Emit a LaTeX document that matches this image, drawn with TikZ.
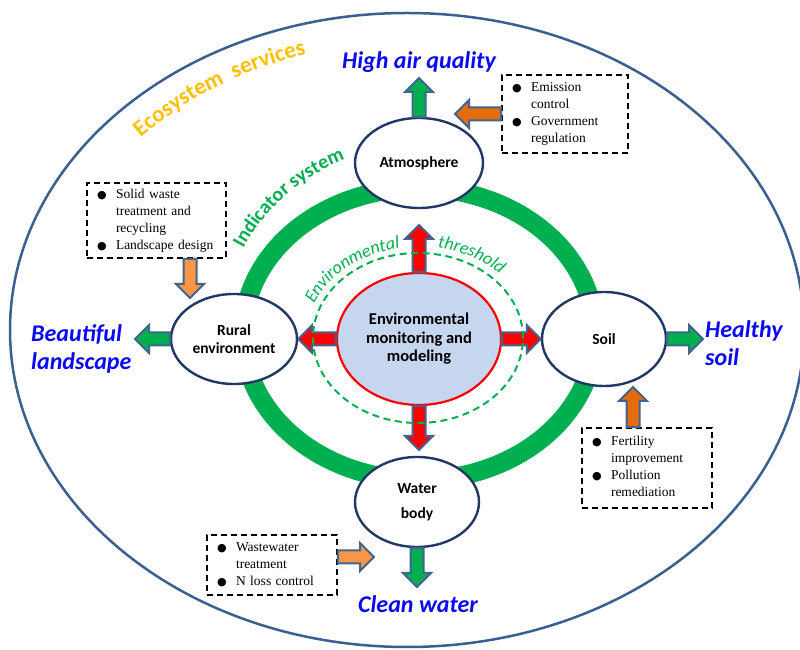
\documentclass[tikz,border=0pt]{standalone}
\usepackage{fontspec}
\setmainfont{Carlito}
\newfontfamily\boxfont{Liberation Serif}
\newfontfamily\symfont{DejaVu Sans}
\usetikzlibrary{calc,shapes.geometric,decorations.text}

\definecolor{nodeedge}{RGB}{32,56,100}
\definecolor{arrowedge}{RGB}{65,100,145}
\definecolor{outeredge}{RGB}{58,95,145}
\definecolor{grn}{RGB}{0,176,80}
\definecolor{orgLight}{RGB}{247,150,70}
\definecolor{orgDark}{RGB}{228,108,10}
\definecolor{coreblue}{RGB}{197,214,238}
\definecolor{ecoyellow}{RGB}{255,192,0}
\definecolor{goalblue}{RGB}{10,10,245}

\newcommand\bl{{\symfont\fontsize{11}{11}\selectfont ●}}
\newcommand\ecofont{\fontsize{23}{23}\selectfont\bfseries\color{ecoyellow}}
\newcommand\indfont{\fontsize{20}{20}\selectfont\bfseries\color{grn}}
\newcommand\envfont{\fontsize{18}{18}\selectfont\itshape\color{grn}}

\newcommand\blockarr[3]{%
  \coordinate (baH) at ($(#2)!14pt!(#1)$);
  \draw[blockarrow, fill=#3]
    ($(#1)!6.5pt!90:(#2)$) -- ($(baH)!6.5pt!90:(#2)$) -- ($(baH)!14pt!90:(#2)$) -- (#2)
    -- ($(baH)!14pt!-90:(#2)$) -- ($(baH)!6.5pt!-90:(#2)$) -- ($(#1)!6.5pt!-90:(#2)$) -- cycle;}

\tikzset{
  place/.style={ellipse, draw=nodeedge, line width=2.4pt, fill=white, inner sep=0pt,
    align=center, font=\fontsize{15.5}{17.5}\selectfont\bfseries},
  core/.style={ellipse, draw=red, line width=2.2pt, fill=coreblue, inner sep=0pt,
    align=center, font=\fontsize{16.5}{18.5}\selectfont\bfseries},
  dashbox/.style={draw=black, dash pattern=on 6pt off 4pt, line width=1.8pt,
    inner xsep=8pt, inner ysep=0pt, align=left,
    font=\boxfont\fontsize{13.5}{17}\selectfont},
  goal/.style={text=goalblue, inner sep=0pt, align=left,
    font=\fontsize{24}{28}\selectfont\bfseries\itshape},
  blockarrow/.style={draw=arrowedge, line width=2pt, line join=miter},
}

\begin{document}
\begin{tikzpicture}[x=1pt, y=1pt]
\useasboundingbox (0,0) rectangle (800,650);
\fill[white] (0,0) rectangle (800,650);

% outer ellipse and ring
\draw[outeredge, line width=2.5pt] (407,320) ellipse [x radius=397pt, y radius=317pt];
\draw[grn, line width=19pt] (419,316) ellipse [x radius=176pt, y radius=146pt];

% nodes
\node[core, minimum width=164pt, minimum height=132pt] (core) at (419,311) {Environmental\\monitoring and\\modeling};
\node[place, minimum width=128pt, minimum height=90pt] (atm) at (419,487) {Atmosphere};
\node[place, minimum width=126pt, minimum height=90pt] (rur) at (234,311) {Rural\\environment};
\node[place, minimum width=124pt, minimum height=94pt] (soil) at (604,311) {Soil};
\node[place, minimum width=124pt, minimum height=90pt, font=\fontsize{15.5}{25}\selectfont\bfseries] (wat) at (417,148) {Water\\body};

% dashed boxes
\node[dashbox, text width=110pt, minimum height=78pt] (boxA) at (565,536)
  {\begin{tabular}{@{\hspace{2pt}}p{19pt}@{}l@{}}\bl & Emission\\ & control\\ \bl & Government\\ & regulation\end{tabular}};
\node[dashbox, text width=123pt, minimum height=75pt] (boxB) at (156.5,429.5)
  {\begin{tabular}{@{\hspace{2pt}}p{19pt}@{}l@{}}\bl & Solid waste\\ & treatment and\\ & recycling\\ \bl & Landscape design\end{tabular}};
\node[dashbox, text width=114pt, minimum height=60pt] (boxC) at (272,85)
  {\begin{tabular}{@{\hspace{2pt}}p{19pt}@{}l@{}}\bl & Wastewater\\ & treatment\\ \bl & N loss control\end{tabular}};
\node[dashbox, text width=114pt, minimum height=80pt] (boxD) at (647,182)
  {\begin{tabular}{@{\hspace{2pt}}p{19pt}@{}l@{}}\bl & Fertility\\ & improvement\\ \bl & Pollution\\ & remediation\end{tabular}};

% goal labels
\node[goal, anchor=center] (air) at (419,588) {High air quality};
\node[goal, anchor=west] (land) at (31,301) {Beautiful\\landscape};
\node[goal, anchor=west] (hsoil) at (705,307) {Healthy\\soil};
\node[goal, anchor=center] (water) at (418,46) {Clean water};

% green arrows
\coordinate (airTip) at (419,572);
\coordinate (landTip) at (135,311);
\coordinate (soilTip) at (703,311);
\coordinate (waterTip) at (417,63);
\blockarr{atm.north}{airTip}{grn}
\blockarr{rur.west}{landTip}{grn}
\blockarr{soil.east}{soilTip}{grn}
\blockarr{wat.south}{waterTip}{grn}

% red arrows
\coordinate (redUp) at (419,425);
\coordinate (redDown) at (419,200);
\blockarr{core.north}{redUp}{red}
\blockarr{core.west}{rur.east}{red}
\blockarr{core.east}{soil.west}{red}
\blockarr{core.south}{redDown}{red}

% orange arrows
\coordinate (oAtip) at (455,536);
\coordinate (oBs) at ($(boxB.south)+(33.5,0)$);
\coordinate (oBtip) at (190,352);
\coordinate (oCs) at ($(boxC.east)+(0,8)$);
\coordinate (oCtip) at (374,93);
\coordinate (oDs) at ($(boxD.north)+(-14,0)$);
\coordinate (oDtip) at (633,263);
\blockarr{boxA.west}{oAtip}{orgDark}
\blockarr{oBs}{oBtip}{orgLight}
\blockarr{oCs}{oCtip}{orgLight}
\blockarr{oDs}{oDtip}{orgDark}

% threshold dashed ellipse
\draw[grn, line width=2pt, dash pattern=on 7pt off 4.5pt] (418,312) ellipse [x radius=105pt, y radius=85pt];

% curved texts
\path[decorate, decoration={text along path, text align=left,
  text={|\ecofont|Ecosystem {\ }services}}]
  (407,320) ++(138:358pt and 287pt) arc[start angle=138, end angle=85, x radius=358pt, y radius=287pt];
\path[decorate, decoration={text along path, text align=left,
  text={|\indfont|Indicator system}}]
  (419,316) ++(153:197pt and 188pt) arc[start angle=153, end angle=90, x radius=197pt, y radius=188pt];
\path[decorate, decoration={text along path, text align=left,
  text={|\envfont|Environmental}}]
  (418,312) ++(158:112pt and 91pt) arc[start angle=158, end angle=85, x radius=112pt, y radius=91pt];
\path[decorate, decoration={text along path, text align=left,
  text={|\envfont|threshold}}]
  (418,312) ++(80:113pt and 92pt) arc[start angle=80, end angle=15, x radius=113pt, y radius=92pt];
\end{tikzpicture}
\end{document}
